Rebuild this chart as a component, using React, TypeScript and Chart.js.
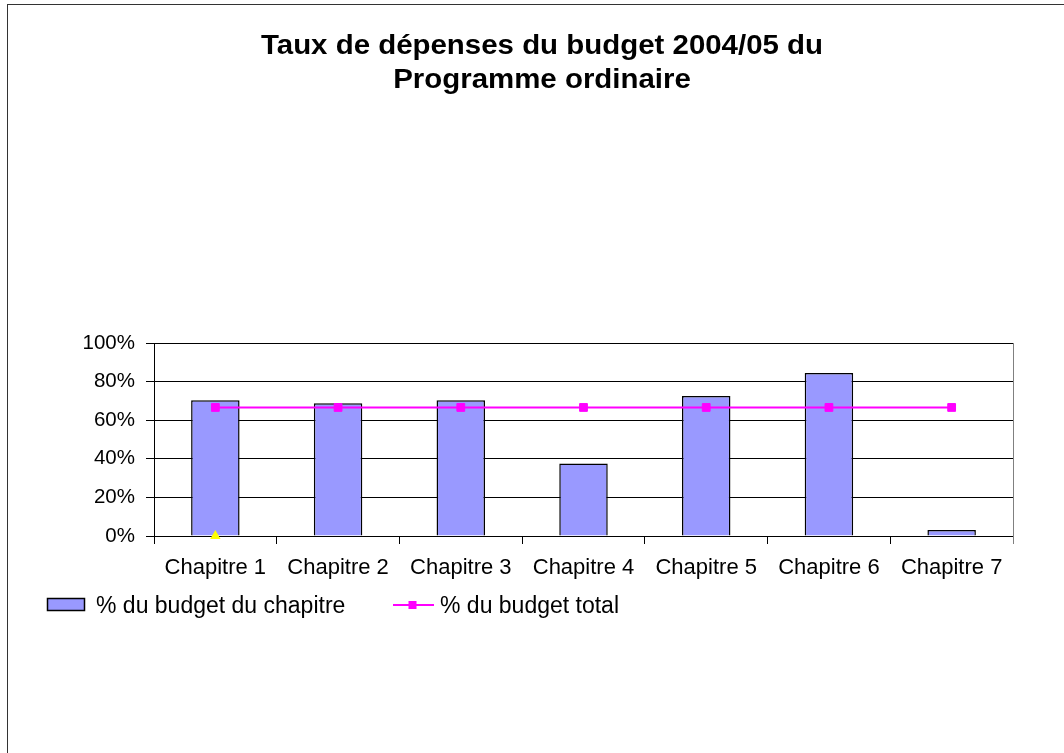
import React, { useEffect, useRef } from "react";
import { Chart, registerables } from "chart.js";

Chart.register(...registerables);

const TITLE_LINES = ["Taux de dépenses du budget 2004/05 du", "Programme ordinaire"];
const CATEGORIES = ["Chapitre 1", "Chapitre 2", "Chapitre 3", "Chapitre 4", "Chapitre 5", "Chapitre 6", "Chapitre 7"];
const CHAPTER_PCT = [70.4, 68.8, 70.4, 37.6, 72.6, 84.4, 3.1];
const TOTAL_PCT = [66.6, 66.6, 66.6, 66.6, 66.6, 66.6, 66.6];
const MARKER_PCT: (number | null)[] = [0, null, null, null, null, null, null];
const Y_TICKS = [0, 20, 40, 60, 80, 100];
const SERIES_LABELS = ["% du budget du chapitre", "% du budget total"];

const FONT = "'Liberation Sans', Arial, sans-serif";
const BAR_FILL = "#9999FF";
const LINE_COLOR = "#FF00FF";

const titlePlugin = {
  id: "xlTitle",
  afterDraw(chart: any) {
    const ctx = chart.ctx;
    ctx.save();
    ctx.fillStyle = "#000";
    ctx.font = `bold 27px ${FONT}`;
    ctx.textAlign = "center";
    ctx.textBaseline = "alphabetic";
    const baselines = [54.3, 87.6];
    TITLE_LINES.forEach((line, i) => {
      ctx.save();
      ctx.translate(542, baselines[i]);
      ctx.scale(1.09, 1);
      ctx.fillText(line, 0, 0);
      ctx.restore();
    });
    ctx.restore();
  },
};

const framePlugin = {
  id: "xlFrame",
  beforeDatasetsDraw(chart: any) {
    const { ctx, chartArea } = chart;
    ctx.save();
    ctx.strokeStyle = "#808080";
    ctx.lineWidth = 1;
    ctx.beginPath();
    const x = Math.round(chartArea.right) + 0.5;
    ctx.moveTo(x, chartArea.top);
    ctx.lineTo(x, chartArea.bottom + 8);
    ctx.stroke();
    ctx.restore();
  },
};

const legendPlugin = {
  id: "xlLegend",
  afterDraw(chart: any) {
    const ctx = chart.ctx;
    ctx.save();
    // bar series entry
    ctx.fillStyle = BAR_FILL;
    ctx.fillRect(47.5, 598.5, 37, 12);
    ctx.strokeStyle = "#000";
    ctx.lineWidth = 1.5;
    ctx.strokeRect(47.5, 598.5, 37, 12);
    ctx.fillStyle = "#000";
    ctx.font = `23px ${FONT}`;
    ctx.textAlign = "left";
    ctx.textBaseline = "alphabetic";
    ctx.fillText(SERIES_LABELS[0], 96, 612.7);
    // line series entry
    ctx.strokeStyle = LINE_COLOR;
    ctx.lineWidth = 2;
    ctx.beginPath();
    ctx.moveTo(393, 605);
    ctx.lineTo(434, 605);
    ctx.stroke();
    ctx.fillStyle = LINE_COLOR;
    ctx.fillRect(408.5, 601, 8, 8);
    ctx.fillStyle = "#000";
    ctx.fillText(SERIES_LABELS[1], 440, 612.7);
    ctx.restore();
  },
};

export default function App() {
  const canvasRef = useRef<HTMLCanvasElement | null>(null);

  useEffect(() => {
    if (!canvasRef.current) return;
    const chart = new Chart(canvasRef.current, {
      type: "bar",
      data: {
        labels: CATEGORIES,
        datasets: [
          {
            type: "bar",
            label: SERIES_LABELS[0],
            data: CHAPTER_PCT,
            backgroundColor: BAR_FILL,
            borderColor: "#000",
            borderWidth: 1.5,
            barPercentage: 0.395,
            categoryPercentage: 1,
            order: 3,
          } as any,
          {
            type: "line",
            label: SERIES_LABELS[1],
            data: TOTAL_PCT,
            borderColor: LINE_COLOR,
            backgroundColor: LINE_COLOR,
            borderWidth: 2,
            pointStyle: "rect",
            pointRadius: 5.5,
            pointBorderWidth: 1,
            pointBackgroundColor: LINE_COLOR,
            pointBorderColor: LINE_COLOR,
            fill: false,
            order: 2,
          } as any,
          {
            type: "line",
            label: "marker",
            data: MARKER_PCT,
            showLine: false,
            pointStyle: "triangle",
            pointRadius: 6,
            pointBorderWidth: 0,
            pointBackgroundColor: "#FFFF00",
            pointBorderColor: "#FFFF00",
            clip: false,
            order: 1,
          } as any,
        ],
      },
      options: {
        animation: false,
        responsive: true,
        maintainAspectRatio: false,
        layout: { padding: { top: 343, right: 51, bottom: 0, left: 0 } },
        plugins: {
          legend: { display: false },
          title: { display: false },
          tooltip: { enabled: false },
        },
        scales: {
          x: {
            type: "category",
            offset: true,
            grid: {
              offset: true,
              drawOnChartArea: false,
              drawTicks: true,
              tickLength: 8,
              color: "#000",
              lineWidth: 1,
            },
            border: { display: true, color: "#000", width: 1 },
            ticks: {
              color: "#000",
              font: { family: FONT, size: 22 },
              padding: 11,
              maxRotation: 0,
              autoSkip: false,
            },
            afterFit(scale: any) {
              scale.height = 217;
            },
          },
          y: {
            min: 0,
            max: 100,
            afterBuildTicks(scale: any) {
              scale.ticks = Y_TICKS.map((v) => ({ value: v }));
            },
            grid: {
              color: "#000",
              lineWidth: 1,
              drawTicks: true,
              tickLength: 8,
            },
            border: { display: true, color: "#000", width: 1 },
            ticks: {
              color: "#000",
              font: { family: FONT, size: 20.5 },
              padding: 11,
              callback: (v: any) => `${v}%`,
            },
            afterFit(scale: any) {
              scale.width = 154;
            },
          },
        },
      },
      plugins: [framePlugin, titlePlugin, legendPlugin],
    });
    return () => chart.destroy();
  }, []);

  return (
    <>
      <div style={{ position: "fixed", left: 0, top: 0, width: 1064, height: 753, background: "#fff" }}>
        <canvas ref={canvasRef} />
      </div>
      <div
        style={{
          position: "fixed",
          left: 7,
          top: 4,
          width: 1057,
          height: 749,
          borderLeft: "1px solid #333",
          borderTop: "1px solid #333",
          boxSizing: "border-box",
          pointerEvents: "none",
        }}
      />
    </>
  );
}
